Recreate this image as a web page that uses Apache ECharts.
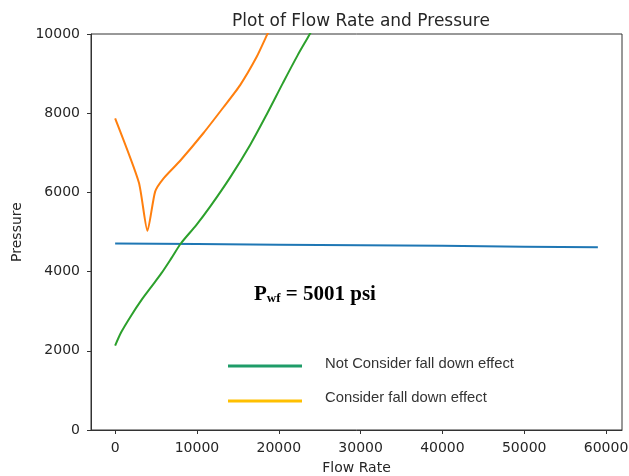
<!DOCTYPE html>
<html>
<head>
<meta charset="utf-8">
<script src="https://cdn.jsdelivr.net/npm/echarts@6/dist/echarts.min.js"></script>
<style>html,body{margin:0;padding:0;background:#fff}#c{width:629px;height:476px}</style>
</head>
<body>
<div id="c"></div>
<script>
// ---- data ----
const xTicks = [0, 10000, 20000, 30000, 40000, 50000, 60000];
const yTicks = [0, 2000, 4000, 6000, 8000, 10000];

const blueFlow = [0, 10000, 20000, 30000, 40000, 50000, 59000];
const bluePressure = [4710, 4695, 4680, 4665, 4650, 4630, 4615];

const greenFlow = [0, 770, 1990, 3210, 4440, 5660, 6880, 8030, 9940, 11610, 14060, 16500, 18600, 20500, 22300, 23800, 25000];
const greenPressure = [2130, 2480, 2900, 3280, 3620, 3960, 4340, 4710, 5180, 5640, 6380, 7200, 8000, 8760, 9460, 10000, 10450];

const orangeFlow = [0, 2900, 3950, 4890, 5900, 7950, 10800, 13240, 15280, 17320, 18550, 20000];
const orangePressure = [7870, 6250, 5030, 6020, 6350, 6800, 7500, 8150, 8710, 9430, 9970, 10600];

const legendLabels = ['Not Consider fall down effect', 'Consider fall down effect'];

function pairs(xs, ys) { return xs.map((x, i) => [x, ys[i]]); }

const chart = echarts.init(document.getElementById('c'), null, {renderer: 'canvas'});
const tickFont = {fontFamily: 'DejaVu Sans', fontSize: 14, color: '#262626', formatter: v => String(v)};

chart.setOption({
  animation: false,
  title: {
    text: 'Plot of Flow Rate and Pressure',
    left: 356, top: 8, textAlign: 'center',
    textStyle: {fontFamily: 'DejaVu Sans', fontSize: 17, fontWeight: 'normal', color: '#262626'}
  },
  grid: {left: 91, right: 7, top: 34, bottom: 46, containLabel: false, outerBoundsMode: 'none',
         show: true, borderColor: '#333', borderWidth: 1, backgroundColor: 'transparent'},
  xAxis: {
    type: 'value', min: -2950, max: 61950,
    name: 'Flow Rate', nameLocation: 'middle', nameGap: 31,
    nameTextStyle: {fontFamily: 'DejaVu Sans', fontSize: 14, color: '#262626'},
    axisLine: {show: true, onZero: false, lineStyle: {color: '#333', width: 1}},
    axisTick: {show: true, length: 4, customValues: xTicks, lineStyle: {color: '#333'}},
    axisLabel: Object.assign({margin: 11, customValues: xTicks}, tickFont),
    splitLine: {show: false}
  },
  yAxis: {
    type: 'value', min: 0, max: 10000, interval: 2000,
    name: 'Pressure', nameLocation: 'middle', nameGap: 63,
    nameTextStyle: {fontFamily: 'DejaVu Sans', fontSize: 14, color: '#262626'},
    axisLine: {show: true, onZero: false, lineStyle: {color: '#333', width: 1}},
    axisTick: {show: true, length: 4, lineStyle: {color: '#333'}},
    axisLabel: Object.assign({margin: 11}, tickFont),
    splitLine: {show: false}
  },
  series: [
    {type: 'line', data: pairs(blueFlow, bluePressure), showSymbol: false, clip: true,
     lineStyle: {color: '#1f77b4', width: 2}, itemStyle: {color: '#1f77b4'}},
    {type: 'line', data: pairs(orangeFlow, orangePressure), showSymbol: false, clip: true, smooth: 0.2,
     lineStyle: {color: '#ff7f0e', width: 2}, itemStyle: {color: '#ff7f0e'}},
    {type: 'line', data: pairs(greenFlow, greenPressure), showSymbol: false, clip: true, smooth: 0.3,
     lineStyle: {color: '#2ca02c', width: 2}, itemStyle: {color: '#2ca02c'}}
  ],
  graphic: [
    {type: 'text', left: 254, top: 284, z: 100,
     style: {
       text: '{a|P}{b|wf}{a| = 5001 psi}',
       rich: {
         a: {fontFamily: 'Liberation Serif', fontSize: 21, fontWeight: 'bold', fill: '#000', lineHeight: 24, verticalAlign: 'bottom'},
         b: {fontFamily: 'Liberation Serif', fontSize: 13, fontWeight: 'bold', fill: '#000', lineHeight: 20, verticalAlign: 'bottom'}
       }
     }},
    {type: 'line', z: 100, shape: {x1: 228, y1: 366, x2: 302, y2: 366}, style: {stroke: '#1e9c68', lineWidth: 3}},
    {type: 'line', z: 100, shape: {x1: 228, y1: 401, x2: 302, y2: 401}, style: {stroke: '#ffc000', lineWidth: 3}},
    {type: 'text', z: 100, x: 325, y: 364,
     style: {text: legendLabels[0], fontFamily: 'Liberation Sans', fontSize: 14.8, fill: '#333', verticalAlign: 'middle'}},
    {type: 'text', z: 100, x: 325, y: 398,
     style: {text: legendLabels[1], fontFamily: 'Liberation Sans', fontSize: 14.8, fill: '#333', verticalAlign: 'middle'}}
  ]
});
</script>
</body>
</html>
